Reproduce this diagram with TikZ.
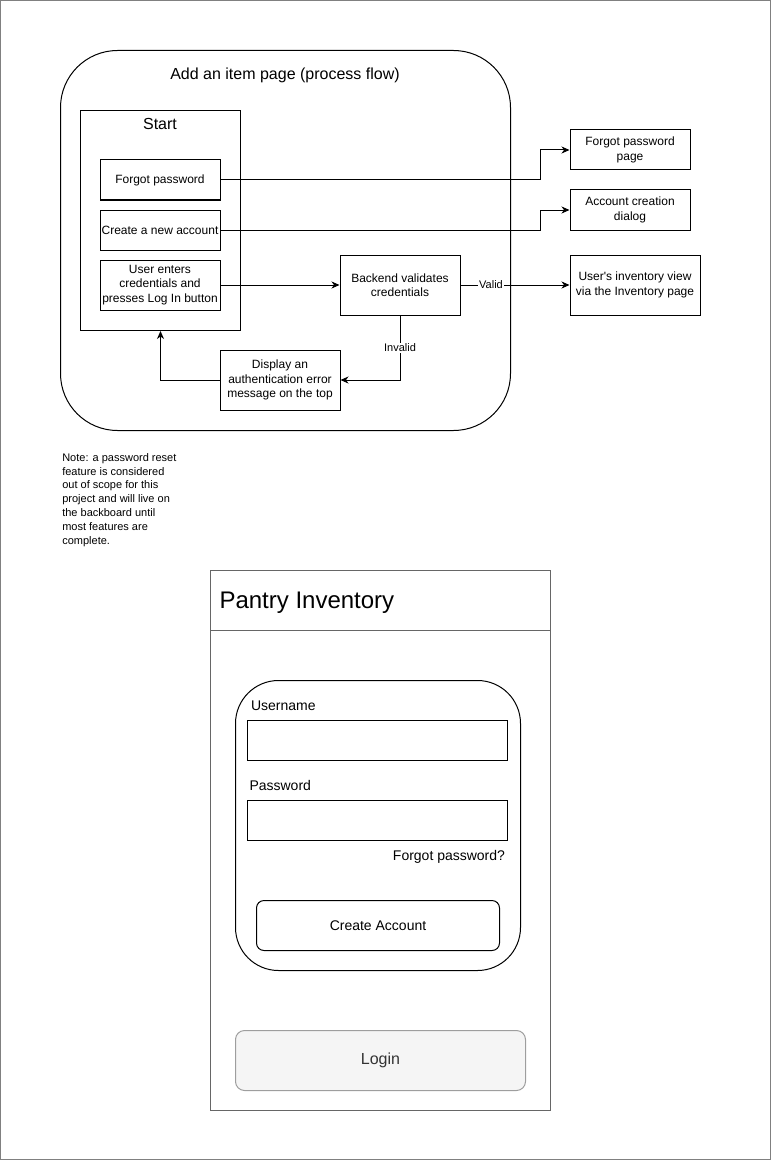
\documentclass[tikz,border=0pt]{standalone}
\usepackage{fontspec}
\setmainfont{Liberation Sans}
\usetikzlibrary{arrows.meta}
\definecolor{mgray}{HTML}{666666}
\definecolor{fgray}{HTML}{808080}
\definecolor{lfill}{HTML}{F5F5F5}
\definecolor{lstroke}{HTML}{9E9E9E}
\definecolor{ltext}{HTML}{333333}
\begin{document}
\begin{tikzpicture}[x=1pt,y=-1pt,line width=1pt,
  fbox/.style={draw=black, line width=1pt, align=center, inner sep=0.5pt,
    font=\fontsize{12}{14.4}\selectfont},
  arr/.style={-{Stealth[length=8pt,width=7pt,inset=2.5pt]}, line width=1pt},
  lbl/.style={fill=white, inner sep=1pt, font=\fontsize{11}{13}\selectfont},
  ttl/.style={inner sep=0, font=\fontsize{16}{19}\selectfont},
  mlbl/.style={inner sep=0, font=\fontsize{14}{16.8}\selectfont},
  frame/.style={draw=black, line width=1pt, inner sep=0, anchor=north west}]
\useasboundingbox (0,0) rectangle (772,1161);
\draw[fgray, line width=1.2pt] (0.6,0.6) rectangle (770.4,1159.4);

% ---------- process flow ----------
\node[frame, rounded corners=57pt, minimum width=450, minimum height=380] (pf) at (60,50) {};
\node[ttl, anchor=base] (pft) at (285,80) {Add an item page (process flow)};

\node[frame, minimum width=160, minimum height=220] (st) at (80,110) {};
\node[ttl, anchor=base] (stt) at (160,130) {Start};

\node[fbox, minimum width=120, minimum height=40] (fp) at (160,180) {Forgot password};
\node[fbox, minimum width=120, minimum height=40] (ca) at (160,230) {Create a new account};
\node[fbox, minimum width=120, minimum height=50] (ue) at (160,285) {User enters\\credentials and\\presses Log In button};
\node[fbox, minimum width=120, minimum height=60] (bv) at (400,285) {Backend validates\\credentials};
\node[fbox, minimum width=120, minimum height=60] (de) at (280,380) {Display an\\authentication error\\message on the top};
\node[fbox, minimum width=120, minimum height=40] (fpp) at (630,150) {Forgot password\\page};
\node[fbox, minimum width=120, minimum height=40] (acd) at (630,210) {Account creation\\dialog};
\node[fbox, minimum width=130, minimum height=60] (uiv) at (635,285) {User\textquotesingle s inventory view\\via the Inventory page};

\draw[arr] (fp.east) -- ++(320,0) |- (fpp.west);
\draw[arr] (ca.east) -- ++(320,0) |- (acd.west);
\draw[arr] (ue.east) -- (bv.west);
\draw[arr] (bv.east) -- node[lbl, pos=0.28] {Valid} (uiv.west);
\draw[arr] (bv.south) |- node[lbl, pos=0.25] {Invalid} (de.east);
\draw[arr] (de.west) -| (st.south);

\node[inner sep=0, anchor=north west, align=left, font=\fontsize{11}{13.9}\selectfont] (note) at (61.8,452.7)
  {Note: a password reset\\feature is considered\\out of scope for this\\project and will live on\\the backboard until\\most features are\\complete.};

% ---------- mockup ----------
\node[frame, draw=mgray, minimum width=340, minimum height=540] (mk) at (210,570) {};
\node[frame, draw=mgray, minimum width=340, minimum height=60] (hd) at (210,570) {};
\node[inner sep=0, anchor=base west, font=\fontsize{24}{28.8}\selectfont] (pit) at (219,608.5) {Pantry Inventory};

\node[frame, rounded corners=43pt, minimum width=285, minimum height=290] (frm) at (235,680) {};
\node[mlbl, anchor=base west] (unl) at (250.5,710) {Username};
\node[frame, minimum width=260, minimum height=40] (un) at (247,720) {};
\node[mlbl, anchor=base west] (pwl) at (249,790) {Password};
\node[frame, minimum width=260, minimum height=40] (pw) at (247,800) {};
\node[mlbl, anchor=base east] (fgp) at (505.5,860) {Forgot password?};
\node[frame, rounded corners=7.5pt, minimum width=243, minimum height=50] (cab) at (256,900) {};
\node[mlbl] (cat) at (cab.center) {Create Account};

\node[frame, draw=lstroke, fill=lfill, rounded corners=9pt, minimum width=290, minimum height=60] (lg) at (235,1030) {};
\node[inner sep=0, text=ltext, font=\fontsize{16}{19.2}\selectfont] (lgt) at (lg.center) {Login};
\end{tikzpicture}
\end{document}
